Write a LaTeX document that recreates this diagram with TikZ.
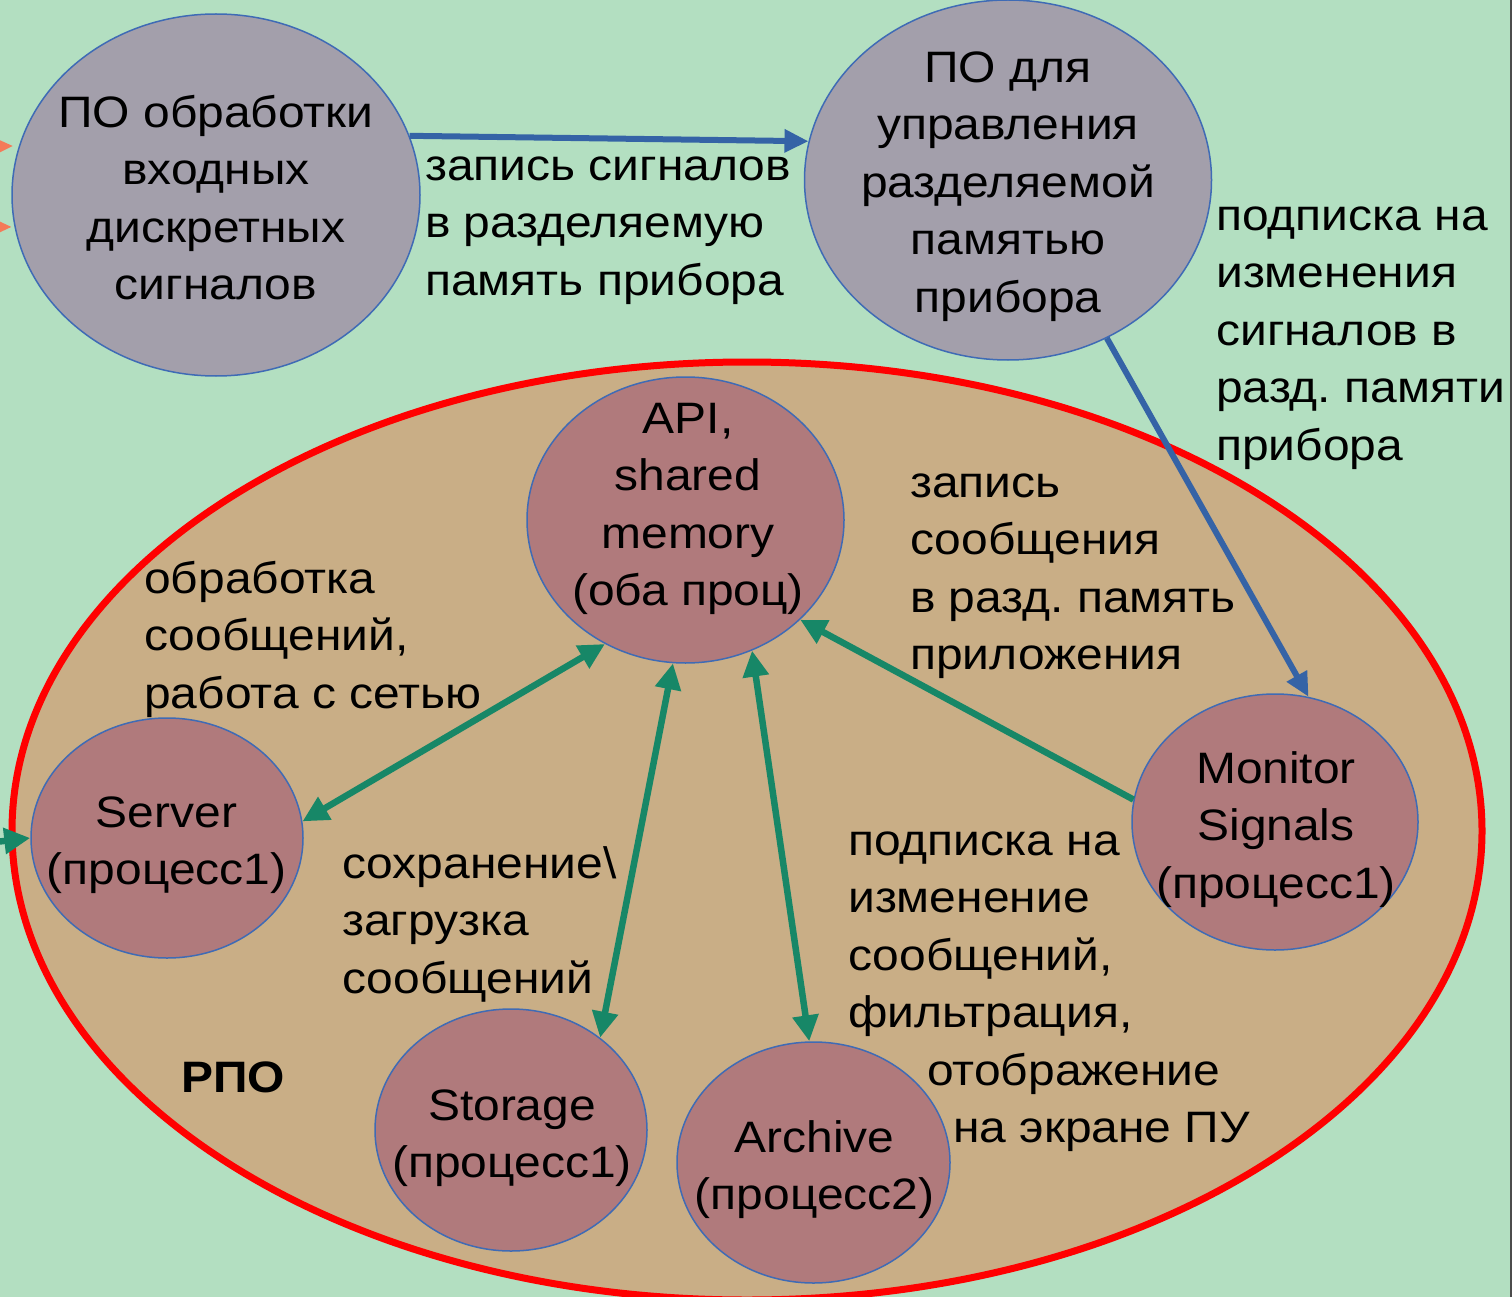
\documentclass[tikz,border=0pt]{standalone}
\usepackage{fontspec}
\setmainfont{Liberation Sans}[FakeStretch=1.09]
\usetikzlibrary{shapes.geometric,arrows.meta}
\definecolor{bg}{HTML}{B3DFC1}
\definecolor{tan}{HTML}{C9AE86}
\definecolor{grayv}{HTML}{A39FAB}
\definecolor{mauve}{HTML}{B07A7C}
\definecolor{nodeblue}{HTML}{3F6BB5}
\definecolor{arrblue}{HTML}{3563A6}
\definecolor{arrgreen}{HTML}{178767}
\definecolor{orng}{HTML}{F47A58}
\newcommand{\Lh}{\rule{0pt}{36pt}}
\frenchspacing
\begin{document}
\begin{tikzpicture}[x=1pt,y=-1pt,
  txt/.style={font=\fontsize{44}{57.5}\selectfont, inner sep=0pt, text=black},
  lbl/.style={txt, align=left, anchor=north west},
  ctext/.style={txt, align=center, anchor=north},
  bubble/.style={ellipse, draw=nodeblue, line width=1.5pt, inner sep=0pt},
  proc/.style={bubble, fill=mauve},
  prog/.style={bubble, fill=grayv},
  bluearr/.style={draw=arrblue, line width=6pt, -{Triangle[length=24pt,width=22pt]}},
  greenarr/.style={draw=arrgreen, line width=6.5pt, -{Triangle[length=26pt,width=25pt]}},
  greenarrb/.style={draw=arrgreen, line width=6.5pt, {Triangle[length=26pt,width=25pt]}-{Triangle[length=26pt,width=25pt]}},
  orarr/.style={draw=orng, line width=3pt, -{Triangle[length=18pt,width=16pt]}},
]
\useasboundingbox (0,0) rectangle (1512,1297);
\clip (0,0) rectangle (1512,1297);
\fill[bg] (0,0) rectangle (1512,1297);
% RPO area
\node[ellipse, draw=red, line width=7pt, fill=tan, inner sep=0pt,
      minimum width=1470pt, minimum height=938pt] (rpo) at (747,831) {};
% top programs
\node[prog, minimum width=408pt, minimum height=362pt] (c1) at (216,195) {};
\node[prog, minimum width=407pt, minimum height=360pt] (c2) at (1008,180) {};
% processes
\node[proc, minimum width=317pt, minimum height=286pt] (api) at (685.5,520) {};
\node[proc, minimum width=272pt, minimum height=240pt] (sv) at (167,838) {};
\node[proc, minimum width=286pt, minimum height=256pt] (mon) at (1275,822) {};
\node[proc, minimum width=272pt, minimum height=242pt] (st) at (511,1130) {};
\node[proc, minimum width=273pt, minimum height=241pt] (ar) at (813.5,1162.5) {};
% incoming arrows from the left (cut by the frame)
\coordinate (oa1) at (-40,147);
\coordinate (oa2) at (-40,227);
\coordinate (gin) at (-40,846);
\draw[orarr, shorten >=6pt] (oa1) -- (c1.166);
\draw[orarr, shorten >=3pt] (oa2) -- (c1.189);
\draw[greenarr] (gin) -- (sv.west);
% connectors
\draw[bluearr] (c1.17) -- (c2.169);
\draw[bluearr] (c2.-58) -- (mon.75);
\draw[greenarrb] (sv.7) -- (api.237);
\draw[greenarrb] (api.-95) -- (st.46);
\draw[greenarrb] (api.-63) -- (ar.92);
\draw[greenarr] (mon.171) -- (api.-41);
% texts in bubbles
\node[ctext] (t1) at (216,91) {\Lh ПО обработки\\входных\\дискретных\\сигналов};
\node[ctext] (t2) at (1008,46) {\Lh ПО для\\управления\\разделяемой\\памятью\\прибора};
\node[ctext] (tapi) at (688,397) {\Lh API,\\shared\\memory\\(оба проц)};
\node[ctext] (tsv) at (166.5,791) {\Lh Server\\(процесс1)};
\node[ctext] (tmon) at (1276,747) {\Lh Monitor\\Signals\\(процесс1)};
\node[ctext] (tst) at (512,1084) {\Lh Storage\\(процесс1)};
\node[ctext] (tar) at (814.5,1116) {\Lh Archive\\(процесс2)};
% labels
\node[lbl] (l1) at (425,144) {\Lh запись сигналов\\в разделяемую\\память прибора};
\node[lbl] (l2) at (1216,194) {\Lh подписка на\\изменения\\сигналов в\\разд. памяти\\прибора};
\node[lbl] (l3) at (910,461) {\Lh запись\\сообщения\\в разд. память\\приложения};
\node[lbl] (l4) at (144,557) {\Lh обработка\\сообщений,\\работа с сетью};
\node[lbl] (l5) at (342,842) {\Lh сохранение\textbackslash\\загрузка\\сообщений};
\node[lbl] (l6) at (848,819) {\Lh подписка на\\изменение\\сообщений,\\фильтрация,\\\hspace*{79pt}отображение\\\hspace*{105pt}на экране ПУ};
\node[ctext, font=\fontsize{44}{57.5}\selectfont\bfseries] (rpol) at (233,1056) {\Lh РПО};
% right frame edge
\draw[line width=2pt, black!70] (1510.5,0) -- (1510.5,1297);
\end{tikzpicture}
\end{document}
